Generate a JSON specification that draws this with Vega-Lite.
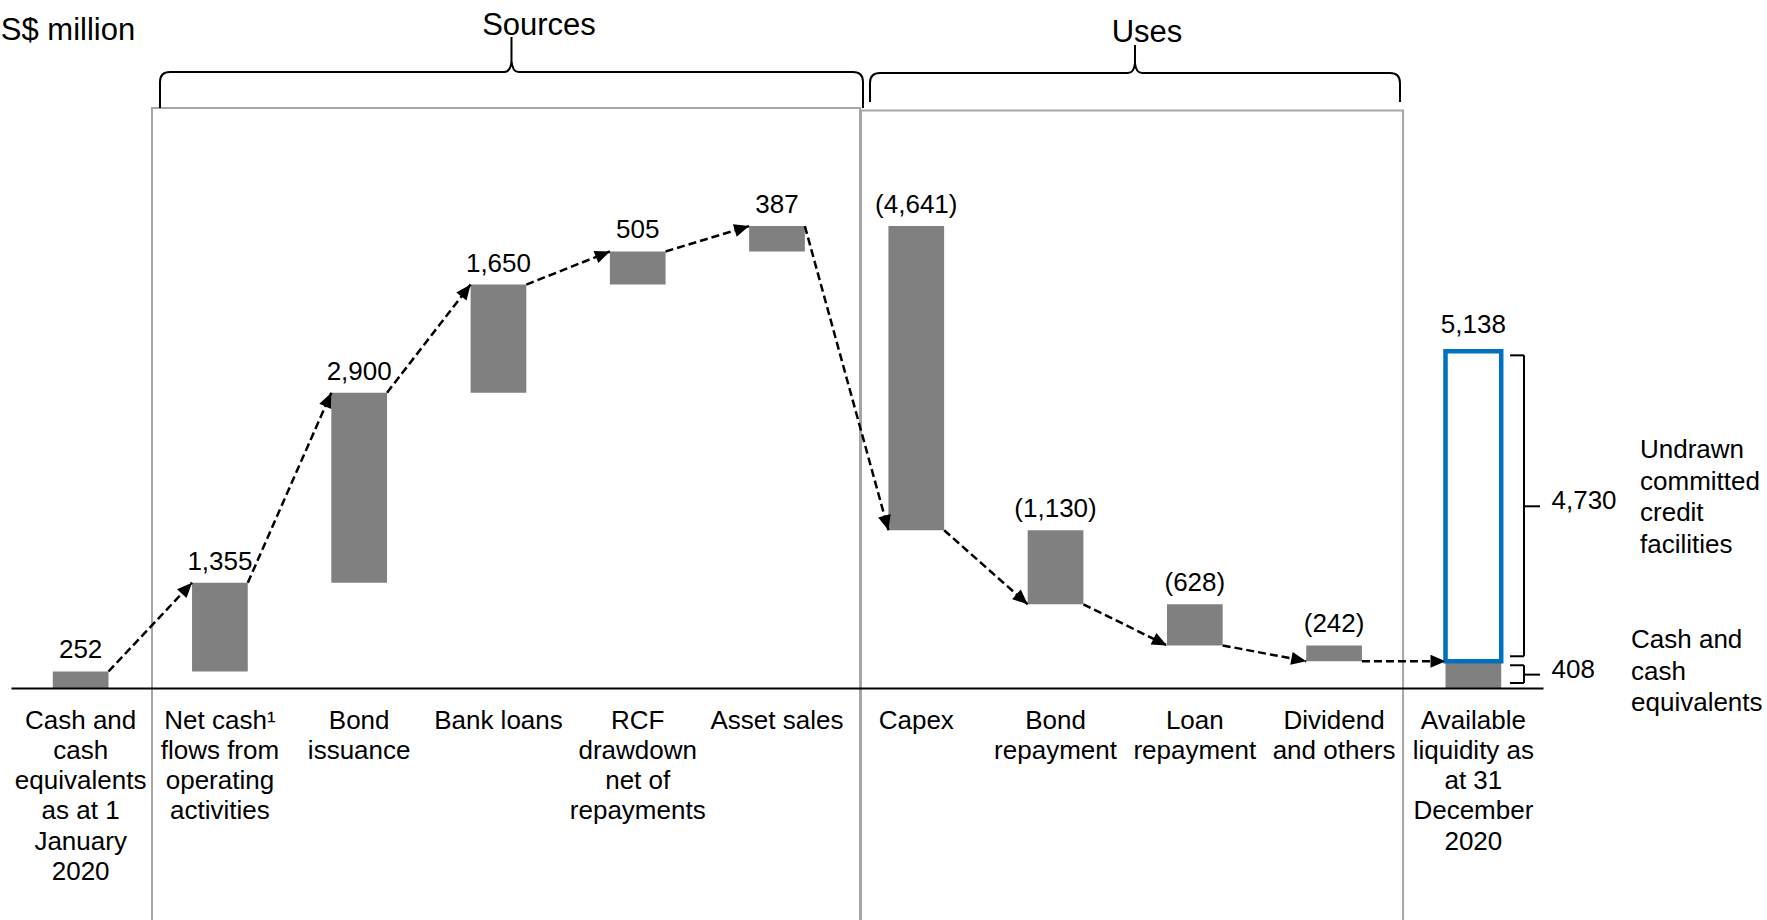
{
  "$schema": "https://vega.github.io/schema/vega-lite/v6.json",
  "width": 1532,
  "height": 688,
  "autosize": {"type": "none"},
  "padding": {"left": 11, "top": 0, "right": 224, "bottom": 232},
  "background": "white",
  "config": {"view": {"stroke": null}, "font": "Liberation Sans"},
  "datasets": {
    "steps": [
      {"item": "Cash and\ncash\nequivalents\nas at 1\nJanuary\n2020", "kind": "start", "low": 0, "high": 252, "amount": 252},
      {"item": "Net cash¹\nflows from\noperating\nactivities", "kind": "source", "low": 252, "high": 1607, "amount": 1355},
      {"item": "Bond\nissuance", "kind": "source", "low": 1607, "high": 4507, "amount": 2900},
      {"item": "Bank loans", "kind": "source", "low": 4507, "high": 6157, "amount": 1650},
      {"item": "RCF\ndrawdown\nnet of\nrepayments", "kind": "source", "low": 6157, "high": 6662, "amount": 505},
      {"item": "Asset sales", "kind": "source", "low": 6662, "high": 7049, "amount": 387},
      {"item": "Capex", "kind": "use", "low": 2408, "high": 7049, "amount": -4641},
      {"item": "Bond\nrepayment", "kind": "use", "low": 1278, "high": 2408, "amount": -1130},
      {"item": "Loan\nrepayment", "kind": "use", "low": 650, "high": 1278, "amount": -628},
      {"item": "Dividend\nand others", "kind": "use", "low": 408, "high": 650, "amount": -242},
      {"item": "Available\nliquidity as\nat 31\nDecember\n2020", "kind": "total", "low": 0, "high": 408, "amount": 408}
    ],
    "links": [
      {"from_item": "Cash and\ncash\nequivalents\nas at 1\nJanuary\n2020", "to_item": "Net cash¹\nflows from\noperating\nactivities", "from": 252, "to": 1607},
      {"from_item": "Net cash¹\nflows from\noperating\nactivities", "to_item": "Bond\nissuance", "from": 1607, "to": 4507},
      {"from_item": "Bond\nissuance", "to_item": "Bank loans", "from": 4507, "to": 6157},
      {"from_item": "Bank loans", "to_item": "RCF\ndrawdown\nnet of\nrepayments", "from": 6157, "to": 6662},
      {"from_item": "RCF\ndrawdown\nnet of\nrepayments", "to_item": "Asset sales", "from": 6662, "to": 7049},
      {"from_item": "Asset sales", "to_item": "Capex", "from": 7049, "to": 2408},
      {"from_item": "Capex", "to_item": "Bond\nrepayment", "from": 2408, "to": 1278},
      {"from_item": "Bond\nrepayment", "to_item": "Loan\nrepayment", "from": 1278, "to": 650},
      {"from_item": "Loan\nrepayment", "to_item": "Dividend\nand others", "from": 650, "to": 408},
      {"from_item": "Dividend\nand others", "to_item": "Available\nliquidity as\nat 31\nDecember\n2020", "from": 408, "to": 408}
    ],
    "liquidity": [
      {"item": "Available\nliquidity as\nat 31\nDecember\n2020", "cash": 408, "total": 5138}
    ],
    "brackets": [
      {"lo": 0, "hi": 408, "amount": 408, "desc": "Cash and\ncash\nequivalents"},
      {"lo": 408, "hi": 5138, "amount": 4730, "desc": "Undrawn\ncommitted\ncredit\nfacilities"}
    ]
  },
  "layer": [
    {
      "data": {"name": "steps"},
      "mark": {"type": "bar", "color": "#808080"},
      "encoding": {
        "x": {
          "field": "item", "type": "nominal",
          "scale": {
            "domain": [
              "Cash and\ncash\nequivalents\nas at 1\nJanuary\n2020",
              "Net cash¹\nflows from\noperating\nactivities",
              "Bond\nissuance",
              "Bank loans",
              "RCF\ndrawdown\nnet of\nrepayments",
              "Asset sales",
              "Capex",
              "Bond\nrepayment",
              "Loan\nrepayment",
              "Dividend\nand others",
              "Available\nliquidity as\nat 31\nDecember\n2020"
            ],
            "paddingInner": 0.6, "paddingOuter": 0.3
          },
          "axis": {
            "title": null, "orient": "bottom", "domain": true, "domainColor": "#000000", "domainWidth": 2,
            "ticks": false, "grid": false, "labelAngle": 0, "labelFont": "Liberation Sans", "labelFontSize": 26,
            "labelColor": "#000000", "labelPadding": 19, "labelLineHeight": 30.3, "labelLimit": 0,
            "labelOverlap": false, "labelBound": false, "labelFlush": false, "zindex": 1,
            "labelExpr": "split(datum.label, '\\n')"
          }
        },
        "y": {"field": "low", "type": "quantitative", "scale": {"domain": [0, 10500], "nice": false}, "axis": null},
        "y2": {"field": "high"}
      }
    },
    {
      "data": {"values": [{"group": "Sources"}]},
      "mark": {"type": "rect", "fill": "transparent", "stroke": "#a6a6a6", "strokeWidth": 2},
      "encoding": {
        "x": {"datum": "Net cash¹\nflows from\noperating\nactivities", "type": "nominal", "bandPosition": -0.719},
        "x2": {"datum": "Asset sales", "bandPosition": 1.99},
        "y": {"datum": 8852, "type": "quantitative", "axis": null},
        "y2": {"datum": -3700}
      }
    },
    {
      "data": {"values": [{"group": "Uses"}]},
      "mark": {"type": "rect", "fill": "transparent", "stroke": "#a6a6a6", "strokeWidth": 2},
      "encoding": {
        "x": {"datum": "Capex", "type": "nominal", "bandPosition": -0.492},
        "x2": {"datum": "Dividend\nand others", "bandPosition": 1.738},
        "y": {"datum": 8814, "type": "quantitative", "axis": null},
        "y2": {"datum": -3700}
      }
    },
    {
      "data": {"name": "liquidity"},
      "mark": {"type": "bar", "fill": "transparent", "stroke": "#0070C0", "strokeWidth": 4.5},
      "encoding": {
        "x": {"field": "item", "type": "nominal"},
        "y": {"field": "cash", "type": "quantitative", "axis": null},
        "y2": {"field": "total"}
      }
    },
    {
      "data": {"name": "links"},
      "mark": {"type": "rule", "color": "#000000", "strokeWidth": 2.5, "strokeDash": [8, 4]},
      "encoding": {
        "x": {"field": "from_item", "type": "nominal", "bandPosition": 1},
        "x2": {"field": "to_item", "bandPosition": 0},
        "y": {"field": "from", "type": "quantitative", "axis": null},
        "y2": {"field": "to"}
      }
    },
    {
      "data": {"name": "links"},
      "transform": [
        {"calculate": "atan2(-(datum.to - datum.from) * 688 / 10500, 83.56) * 180 / PI", "as": "ang"}
      ],
      "mark": {"type": "point", "shape": "M0,0L-15,-6.5L-15,6.5Z", "size": 4, "filled": true, "color": "#000000", "opacity": 1},
      "encoding": {
        "x": {"field": "to_item", "type": "nominal", "bandPosition": 0},
        "y": {"field": "to", "type": "quantitative", "axis": null},
        "angle": {"field": "ang", "type": "quantitative", "scale": null}
      }
    },
    {
      "data": {"name": "steps"},
      "transform": [{"filter": "datum.kind != 'total'"}],
      "mark": {"type": "text", "fontSize": 26, "color": "#000000", "baseline": "alphabetic", "align": "center", "dy": -13},
      "encoding": {
        "x": {"field": "item", "type": "nominal"},
        "y": {"field": "high", "type": "quantitative", "axis": null},
        "text": {"field": "amount", "type": "quantitative", "format": "(,"}
      }
    },
    {
      "data": {"name": "liquidity"},
      "mark": {"type": "text", "fontSize": 26, "color": "#000000", "baseline": "alphabetic", "align": "center", "dy": -18},
      "encoding": {
        "x": {"field": "item", "type": "nominal"},
        "y": {"field": "total", "type": "quantitative", "axis": null},
        "text": {"field": "total", "type": "quantitative", "format": ","}
      }
    },
    {
      "data": {"name": "brackets"},
      "mark": {"type": "rule", "color": "#000000", "strokeWidth": 2, "yOffset": 4, "y2Offset": -5},
      "encoding": {
        "x": {"datum": "Available\nliquidity as\nat 31\nDecember\n2020", "type": "nominal", "bandPosition": 1.409},
        "y": {"field": "hi", "type": "quantitative", "axis": null},
        "y2": {"field": "lo"}
      }
    },
    {
      "data": {"name": "brackets"},
      "mark": {"type": "rule", "color": "#000000", "strokeWidth": 2, "yOffset": 4},
      "encoding": {
        "x": {"datum": "Available\nliquidity as\nat 31\nDecember\n2020", "type": "nominal", "bandPosition": 1.158},
        "x2": {"datum": "Available\nliquidity as\nat 31\nDecember\n2020", "bandPosition": 1.409},
        "y": {"field": "hi", "type": "quantitative", "axis": null}
      }
    },
    {
      "data": {"name": "brackets"},
      "mark": {"type": "rule", "color": "#000000", "strokeWidth": 2, "yOffset": -5},
      "encoding": {
        "x": {"datum": "Available\nliquidity as\nat 31\nDecember\n2020", "type": "nominal", "bandPosition": 1.158},
        "x2": {"datum": "Available\nliquidity as\nat 31\nDecember\n2020", "bandPosition": 1.409},
        "y": {"field": "lo", "type": "quantitative", "axis": null}
      }
    },
    {
      "data": {"name": "brackets"},
      "transform": [{"calculate": "(datum.lo + datum.hi) / 2", "as": "mid"}],
      "mark": {"type": "rule", "color": "#000000", "strokeWidth": 2},
      "encoding": {
        "x": {"datum": "Available\nliquidity as\nat 31\nDecember\n2020", "type": "nominal", "bandPosition": 1.409},
        "x2": {"datum": "Available\nliquidity as\nat 31\nDecember\n2020", "bandPosition": 1.696},
        "y": {"field": "mid", "type": "quantitative", "axis": null}
      }
    },
    {
      "data": {"name": "brackets"},
      "transform": [{"calculate": "(datum.lo + datum.hi) / 2", "as": "mid"}],
      "mark": {"type": "text", "fontSize": 26, "color": "#000000", "align": "left", "baseline": "middle", "dx": 106, "dy": -5},
      "encoding": {
        "x": {"datum": "Available\nliquidity as\nat 31\nDecember\n2020", "type": "nominal", "bandPosition": 0},
        "y": {"field": "mid", "type": "quantitative", "axis": null},
        "text": {"field": "amount", "type": "quantitative", "format": ","}
      }
    },
    {
      "data": {"name": "brackets"},
      "transform": [{"filter": "datum.amount == 4730"}, {"calculate": "(datum.lo + datum.hi) / 2", "as": "mid"}],
      "mark": {"type": "text", "fontSize": 26, "color": "#000000", "align": "left", "baseline": "alphabetic", "dx": 194.5, "dy": -48.3, "lineBreak": "\n", "lineHeight": 31.7},
      "encoding": {
        "x": {"datum": "Available\nliquidity as\nat 31\nDecember\n2020", "type": "nominal", "bandPosition": 0},
        "y": {"field": "mid", "type": "quantitative", "axis": null},
        "text": {"field": "desc", "type": "nominal"}
      }
    },
    {
      "data": {"name": "brackets"},
      "transform": [{"filter": "datum.amount == 408"}, {"calculate": "(datum.lo + datum.hi) / 2", "as": "mid"}],
      "mark": {"type": "text", "fontSize": 26, "color": "#000000", "align": "left", "baseline": "alphabetic", "dx": 185.5, "dy": -26.6, "lineBreak": "\n", "lineHeight": 31.7},
      "encoding": {
        "x": {"datum": "Available\nliquidity as\nat 31\nDecember\n2020", "type": "nominal", "bandPosition": 0},
        "y": {"field": "mid", "type": "quantitative", "axis": null},
        "text": {"field": "desc", "type": "nominal"}
      }
    },
    {
      "data": {"values": [{"t": "S$ million"}]},
      "mark": {"type": "text", "fontSize": 31, "color": "#000000", "align": "left", "baseline": "alphabetic", "dx": -52},
      "encoding": {
        "x": {"datum": "Cash and\ncash\nequivalents\nas at 1\nJanuary\n2020", "type": "nominal", "bandPosition": 0},
        "y": {"datum": 9890, "type": "quantitative", "axis": null},
        "text": {"field": "t", "type": "nominal"}
      }
    },
    {
      "data": {"values": [{"t": "Sources"}]},
      "mark": {"type": "text", "fontSize": 31, "color": "#000000", "align": "center", "baseline": "alphabetic", "dx": 27.5},
      "encoding": {
        "x": {"datum": "Bank loans", "type": "nominal", "bandPosition": 0.734},
        "y": {"datum": 9966, "type": "quantitative", "axis": null},
        "text": {"field": "t", "type": "nominal"}
      }
    },
    {
      "data": {"values": [{"t": "Uses"}]},
      "mark": {"type": "text", "fontSize": 31, "color": "#000000", "align": "center", "baseline": "alphabetic", "dx": 12},
      "encoding": {
        "x": {"datum": "Loan\nrepayment", "type": "nominal", "bandPosition": -0.574},
        "y": {"datum": 9859, "type": "quantitative", "axis": null},
        "text": {"field": "t", "type": "nominal"}
      }
    },
    {
      "data": {"values": [{"group": "Sources"}]},
      "mark": {"type": "point", "shape": "M-351.5,36L-351.5,10Q-351.5,0,-341.5,0L-7,0Q-1,0,0,-11L0,-35M0,-11Q1,0,7,0L341.5,0Q351.5,0,351.5,10L351.5,36", "size": 4, "filled": false, "stroke": "#000000", "strokeWidth": 2, "opacity": 1},
      "encoding": {
        "x": {"datum": "Bank loans", "type": "nominal", "bandPosition": 0.734},
        "y": {"datum": 9401, "type": "quantitative", "axis": null}
      }
    },
    {
      "data": {"values": [{"group": "Uses"}]},
      "mark": {"type": "point", "shape": "M-265,29L-265,10Q-265,0,-255,0L-7,0Q-1,0,0,-10L0,-28M0,-10Q1,0,7,0L255,0Q265,0,265,10L265,29", "size": 4, "filled": false, "stroke": "#000000", "strokeWidth": 2, "opacity": 1},
      "encoding": {
        "x": {"datum": "Loan\nrepayment", "type": "nominal", "bandPosition": -0.574},
        "y": {"datum": 9386, "type": "quantitative", "axis": null}
      }
    }
  ]
}
